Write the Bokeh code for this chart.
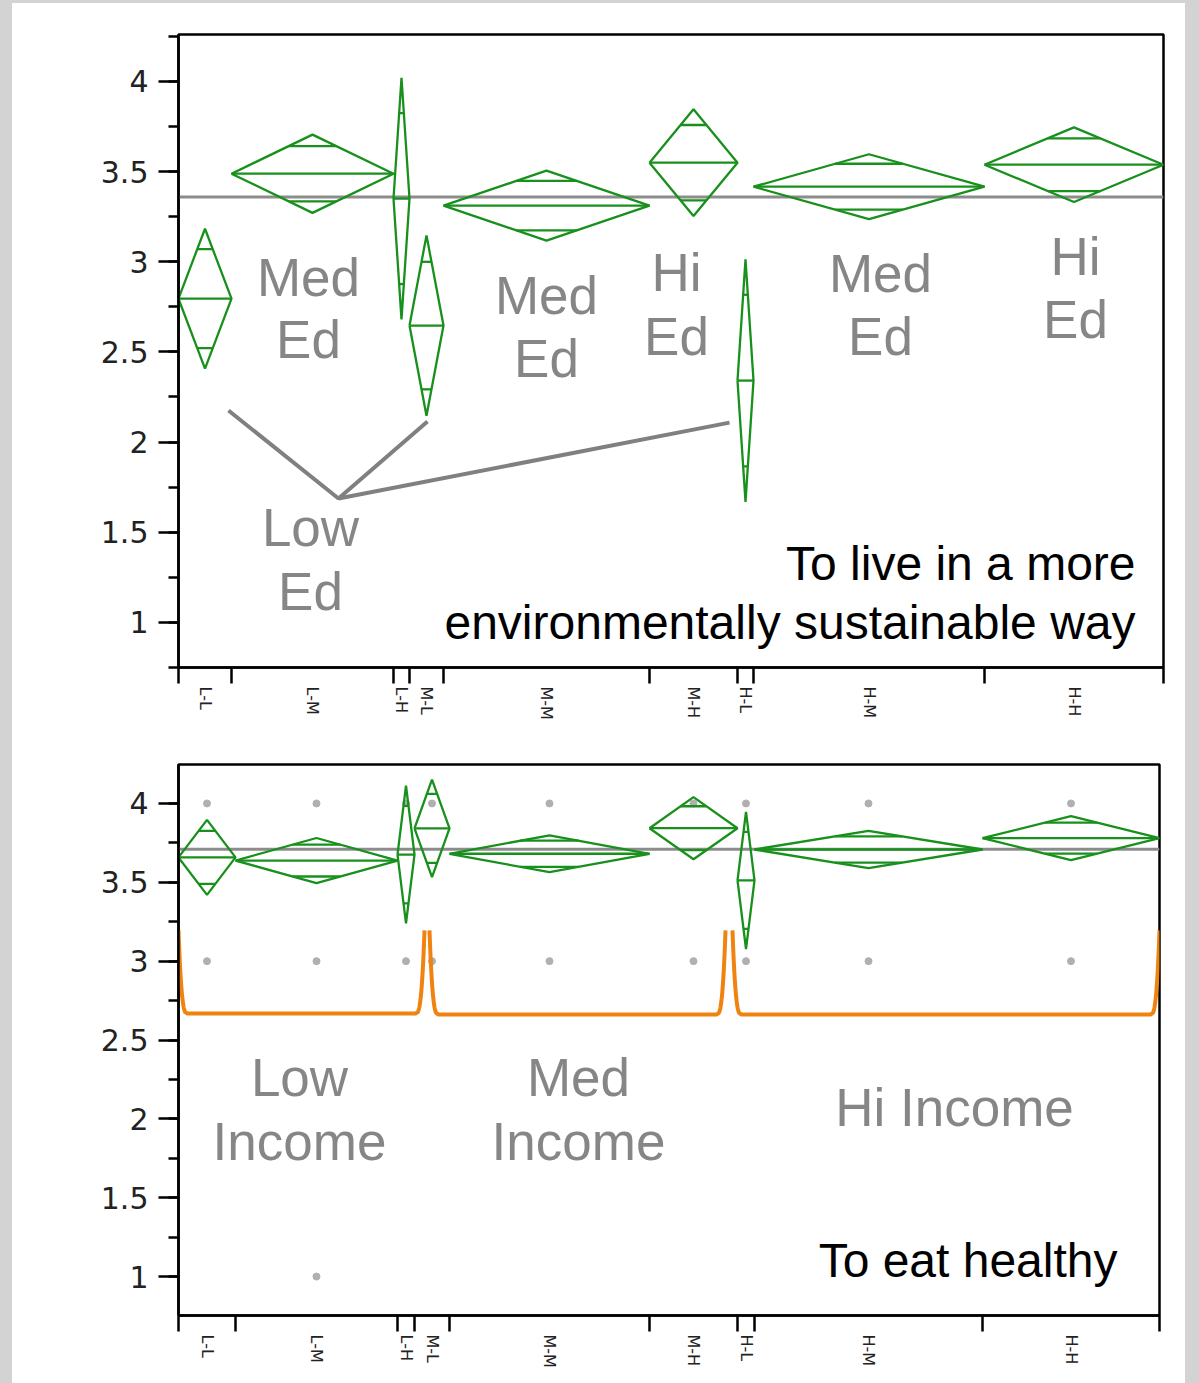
import numpy as np
from bokeh.plotting import figure
from bokeh.models import (Range1d, FixedTicker, SingleIntervalTicker, Span, Label,
                          CustomJSTickFormatter)
from bokeh.layouts import column
from bokeh.embed import file_html
from bokeh.resources import INLINE

# ---------------- data ----------------
groups = ["L-L", "L-M", "L-H", "M-L", "M-M", "M-H", "H-L", "H-M", "H-H"]

# "To live in a more environmentally sustainable way"
env_n = [53, 162, 16, 34, 206, 88, 16, 231, 179]
env_mean = [2.795, 3.488, 3.350, 2.646, 3.311, 3.549, 2.341, 3.416, 3.538]
env_ci = [0.388, 0.217, 0.670, 0.500, 0.194, 0.296, 0.673, 0.180, 0.207]
env_grand = 3.359

# "To eat healthy"
eat_n = [57, 162, 17, 35, 200, 88, 17, 228, 177]
eat_mean = [3.658, 3.638, 3.676, 3.842, 3.681, 3.843, 3.512, 3.708, 3.780]
eat_ci = [0.238, 0.143, 0.437, 0.309, 0.117, 0.197, 0.435, 0.118, 0.139]
eat_grand = 3.71

# raw response points visible in the lower panel
eat_pt_group = groups + groups + ["L-M"]
eat_pt_value = [4] * 9 + [3] * 9 + [1]

GREEN = "#18901c"
GRAYTXT = "#868686"
ORANGE = "#f0830f"


def panel(n, mean, ci, grand, y0, y1, fw, fh, bl, br, bt, bb):
    n = np.array(n, float)
    right = np.cumsum(n)
    left = right - n
    ctr = (left + right) / 2
    p = figure(frame_width=fw, frame_height=fh, min_border_left=bl, min_border_right=br,
               min_border_top=bt, min_border_bottom=bb,
               x_range=Range1d(0, right[-1]), y_range=Range1d(y0, y1),
               output_backend="svg", toolbar_location=None,
               background_fill_color="white", border_fill_color="white")
    p.grid.visible = False
    p.outline_line_color = "black"
    p.outline_line_width = 2.5
    p.outline_line_alpha = 1.0

    p.add_layout(Span(location=grand, dimension="width", line_color="#8c8c8c",
                      line_width=3, level="underlay"))

    # y axis
    ya = p.yaxis[0]
    ya.ticker = SingleIntervalTicker(interval=0.5, num_minor_ticks=2)
    ya.formatter = CustomJSTickFormatter(code="return tick.toString();")
    ya.major_tick_out = 20
    ya.major_tick_in = 0
    ya.minor_tick_out = 10
    ya.minor_tick_in = 0
    ya.major_tick_line_width = 2.5
    ya.minor_tick_line_width = 2.5
    ya.axis_line_width = 2.5
    ya.major_label_text_font = "DejaVu Sans"
    ya.major_label_text_font_size = "30px"
    ya.major_label_text_color = "#222222"
    ya.major_label_standoff = 10

    # x axis: labels at group centres, ticks at group boundaries
    xa = p.xaxis[0]
    xa.ticker = FixedTicker(ticks=list(ctr), minor_ticks=list(np.concatenate([[0], right])))
    xa.formatter = CustomJSTickFormatter(
        args=dict(centers=list(ctr), names=groups),
        code="""let b=0, d=1e12;
for (let i=0;i<centers.length;i++){const dd=Math.abs(centers[i]-tick); if(dd<d){d=dd;b=i;}}
return names[b];""")
    xa.major_tick_out = 0
    xa.major_tick_in = 0
    xa.minor_tick_out = 16
    xa.minor_tick_in = 0
    xa.minor_tick_line_width = 2.5
    xa.axis_line_width = 2.5
    xa.major_label_orientation = "vertical"
    xa.major_label_standoff = 3
    xa.major_label_text_font = "DejaVu Sans"
    xa.major_label_text_font_size = "16px"
    xa.major_label_text_color = "#222222"
    return p, left, right, ctr


def diamonds(p, left, right, ctr, mean, ci):
    xs, ys = [], []
    k = 1 / np.sqrt(2)
    for l, r, c, m, h in zip(left, right, ctr, mean, ci):
        xs.append([l, c, r, c, l]); ys.append([m, m + h, m, m - h, m])
        xs.append([l, r]); ys.append([m, m])
        hw = (1 - k) * (r - l) / 2
        xs.append([c - hw, c + hw]); ys.append([m + k * h] * 2)
        xs.append([c - hw, c + hw]); ys.append([m - k * h] * 2)
    p.multi_line(xs, ys, line_color=GREEN, line_width=2.3)


def txt(p, x, y, s, color=GRAYTXT, size="53px", align="center"):
    p.add_layout(Label(x=x, y=y, text=s, text_color=color, text_font="Liberation Sans",
                       text_font_size=size, text_align=align, text_baseline="alphabetic"))


# ---------------- top panel ----------------
p1, l1, r1, c1 = panel(env_n, env_mean, env_ci, env_grand, 0.75, 4.26,
                       985, 633, 166, 22, 31, 68)
diamonds(p1, l1, r1, c1, env_mean, env_ci)

# connector lines for "Low Ed"
p1.multi_line([[50, 160, 249], [160, 551]], [[2.175, 1.687, 2.114], [1.687, 2.108]],
              line_color="#808080", line_width=4)

for x, y1_, y2_, a, b in [(130, 2.915, 2.566, "Med", "Ed"),
                          (368, 2.815, 2.466, "Med", "Ed"),
                          (498, 2.943, 2.588, "Hi", "Ed"),
                          (702, 2.937, 2.588, "Med", "Ed"),
                          (897, 3.031, 2.677, "Hi", "Ed"),
                          (132, 1.524, 1.169, "Low", "Ed")]:
    txt(p1, x, y1_, a)
    txt(p1, x, y2_, b)
txt(p1, 957, 1.329, "To live in a more", color="black", size="48px", align="right")
txt(p1, 957, 1.002, "environmentally sustainable way", color="black", size="48px", align="right")

# ---------------- bottom panel ----------------
p2, l2, r2, c2 = panel(eat_n, eat_mean, eat_ci, eat_grand, 0.753, 4.247,
                       981, 551, 164, 28, 29, 68)
px = [c2[groups.index(g)] for g in eat_pt_group]
p2.scatter(px, eat_pt_value, size=7, color="#b0b0b0")
diamonds(p2, l2, r2, c2, eat_mean, eat_ci)


def bracket(x0, x1, ytop, ybot, cw=9.0, q=3.0):
    f = np.linspace(0, 1, 60)
    u = cw * (1 - (1 - f) ** (1 / q))
    yy = ytop - (ytop - ybot) * f
    xs = np.concatenate([x0 + u, (x1 - u)[::-1]])
    ys = np.concatenate([yy, yy[::-1]])
    return list(xs), list(ys)


bxs, bys = [], []
for x0, x1, yb in [(0, 246, 2.668), (251, 547, 2.662), (554, 981, 2.662)]:
    a, b = bracket(x0, x1, 3.195, yb)
    bxs.append(a); bys.append(b)
p2.multi_line(bxs, bys, line_color=ORANGE, line_width=4, line_join="round")

txt(p2, 121, 2.265, "Low")
txt(p2, 121, 1.859, "Income")
txt(p2, 400, 2.265, "Med")
txt(p2, 400, 1.859, "Income")
txt(p2, 776, 2.072, "Hi Income")
txt(p2, 939, 1.102, "To eat healthy", color="black", size="48px", align="right")

p1.margin = (3, 14, 0, 12)
p2.margin = (0, 14, 0, 12)
bg = ("linear-gradient(to bottom, #d3d3d3 3px, rgba(0,0,0,0) 3px), "
      "linear-gradient(to right, #d3d3d3 12px, #ffffff 12px, #ffffff 1185px, #d3d3d3 1185px)")
layout = column(p1, p2, spacing=0, styles={"background": bg})

open("out.html", "w").write(file_html(layout, INLINE))
